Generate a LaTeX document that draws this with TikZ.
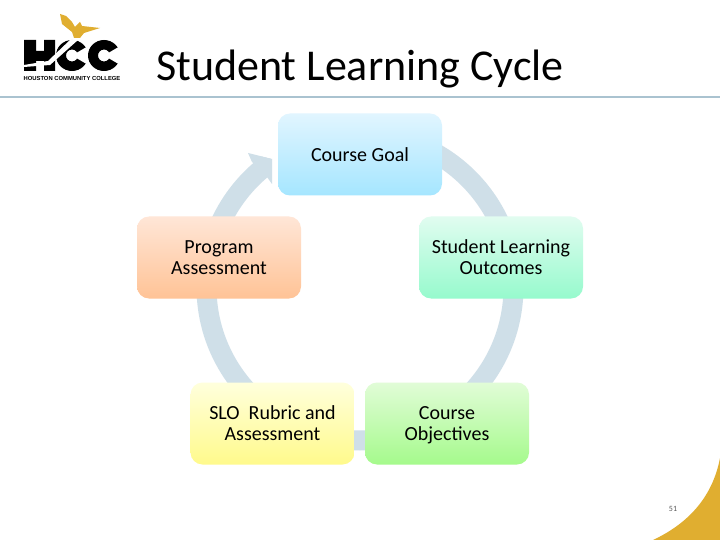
\documentclass[tikz,border=0pt]{standalone}
\usepackage{fontspec}
\setmainfont{Carlito}
\newfontfamily\logofont{Liberation Sans}
\definecolor{ringc}{RGB}{207,223,232}
\definecolor{rulec}{RGB}{170,195,208}
\definecolor{goldc}{RGB}{224,174,48}
\definecolor{gt}{RGB}{225,245,255}\definecolor{gb}{RGB}{165,230,255}
\definecolor{st}{RGB}{225,252,240}\definecolor{sb}{RGB}{150,250,205}
\definecolor{ot}{RGB}{225,252,215}\definecolor{ob}{RGB}{165,250,140}
\definecolor{rt}{RGB}{255,255,220}\definecolor{rb}{RGB}{255,250,140}
\definecolor{pt}{RGB}{255,230,215}\definecolor{pb}{RGB}{255,195,150}
\tikzset{
  x=1pt,y=-1pt,
  box/.style={rounded corners=12pt,minimum width=164pt,minimum height=82pt,align=center,text=black,font=\fontsize{20}{21}\selectfont,inner sep=0pt},
}
\begin{document}
\begin{tikzpicture}
\useasboundingbox (0,0) rectangle (720,540);
\fill[white] (0,0) rectangle (720,540);
% corner
\fill[goldc] (720,458) .. controls (712,500) and (685,525) .. (653,540) -- (720,540) -- cycle;
% rule
\fill[rulec] (0,96) rectangle (720,98);
% ring
\fill[ringc,even odd rule] (360,287) circle[radius=163.5] (360,287) circle[radius=143.5];
\fill[white] (272,150) rectangle (360,200);
\fill[white] (240,120) rectangle (360,150);
\fill[white] (240,150) -- (272,150) -- (272,159) -- (248,153) -- (252,162) -- (240,162) -- cycle;
\fill[ringc] (248,153) -- (272,159) -- (272,184) -- (267,177) -- (252,162) -- cycle;
% title
\node[anchor=west,inner sep=0pt,font=\fontsize{44}{48}\selectfont] (title) at (156,69) {Student Learning Cycle};
% nodes
\node[box,top color=gt,bottom color=gb] (goal) at (360,154.5) {Course Goal};
\node[box,top color=st,bottom color=sb] (slo) at (501,257.5) {Student Learning\\Outcomes};
\node[box,top color=ot,bottom color=ob] (obj) at (447,423.5) {Course\\\smash{Objectives}};
\node[box,top color=rt,bottom color=rb] (rub) at (272.5,423.5) {SLO\ \ Rubric and\\Assessment};
\node[box,top color=pt,bottom color=pb] (prog) at (219,257.5) {Program\\Assessment};
\node[font=\fontsize{8}{9}\selectfont,text=black!65,inner sep=0pt] (num) at (673,509) {51};
% logo
\fill[goldc] (60,14) -- (66,16) -- (72,22) -- (75,27) -- (80,22) -- (82,26) -- (100,28) -- (84,33) -- (80,38) -- (74,38) -- (72,32) -- (62,24) -- cycle;
\fill[black] (24,40) rectangle (36,71) (44,40) rectangle (55,71) (24,51) rectangle (55,61);
\fill[black,even odd rule] (72,55.5) circle[x radius=16,y radius=15.5] (72,55.5) circle[x radius=6,y radius=6];
\fill[white] (72,55.5) -- (90,45) -- (90,66) -- cycle;
\fill[black,even odd rule] (104,55.5) circle[x radius=16,y radius=15.5] (104,55.5) circle[x radius=6,y radius=6];
\fill[white] (104,55.5) -- (122,45) -- (122,66) -- cycle;
\fill[white] (24,67) -- (50,65) -- (78,40) -- (70,40) -- (48,61) -- (24,65) -- cycle;
\node[inner sep=0pt,font=\logofont\bfseries\fontsize{5.85}{6}\selectfont] (hname) at (72,78.5) {HOUSTON COMMUNITY COLLEGE};
\end{tikzpicture}
\end{document}
